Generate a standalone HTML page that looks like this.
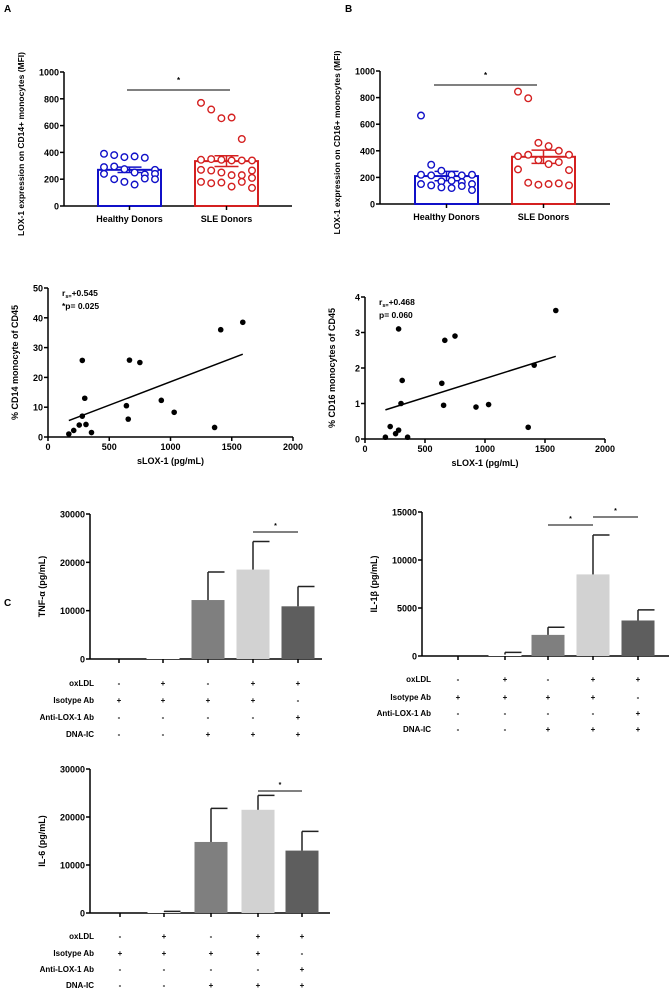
<!DOCTYPE html>
<html><head><meta charset="utf-8"><style>
body{margin:0;background:#fff}
svg{display:block;font-family:"Liberation Sans",Arial,sans-serif;font-weight:bold}
</style></head><body>
<svg id="fig" width="669" height="990" viewBox="0 0 669 990" xmlns="http://www.w3.org/2000/svg">
<text x="4" y="12" font-size="10">A</text>
<text x="345" y="12" font-size="10">B</text>
<text x="4" y="606" font-size="10">C</text>
</svg>
<script>
// ---- data ----
const donorCats = ["Healthy Donors","SLE Donors"];
const aMeans = [270, 335];
const aErr = [20, 40];
const aHealthy = [390,380,365,370,360,270,290,295,275,250,235,240,240,200,180,160,205,200];
const aSLE = [770,720,655,660,500,340,345,350,345,340,340,265,270,265,250,230,230,210,180,170,175,145,180,135];
const bMeans = [210, 355];
const bErr = [35, 50];
const bHealthy = [665,295,250,220,215,220,220,215,170,175,165,150,150,140,125,120,135,105];
const bSLE = [845,795,460,435,400,370,360,370,330,300,315,255,260,160,145,150,155,140];
const sLox = [170,210,255,280,280,300,310,355,640,655,665,750,925,1030,1360,1410,1590];
const cd14 = [1,2.2,4,7,25.7,13,4.2,1.5,10.5,6,25.8,25,12.3,8.3,3.2,36,38.5];
const cd16 = [0.05,0.35,0.15,0.25,3.1,1.0,1.65,0.05,1.57,0.95,2.78,2.9,0.9,0.97,0.33,2.08,3.62];
const fit14 = [[170,5.5],[1590,27.8]];
const fit16 = [[170,0.82],[1590,2.33]];
const condRows = ["oxLDL","Isotype Ab","Anti-LOX-1 Ab","DNA-IC"];
const condSigns = [["-","+","-","+","+"],["+","+","+","+","-"],["-","-","-","-","+"],["-","-","+","+","+"]];
const tnfVals = [0,300,12200,18500,10900];
const tnfErr = [0,300,18000,24300,15000];
const il1Vals = [0,150,2200,8500,3700];
const il1Err = [0,380,3000,12600,4800];
const il6Vals = [0,300,14800,21500,13000];
const il6Err = [0,350,21800,24500,17000];
const barColors = ["#fff","#fff","#7f7f7f","#d2d2d2","#5e5e5e"];
const donorTicks = [0,200,400,600,800,1000];
const sxTicks = [0,500,1000,1500,2000];
const s14Ticks = [0,10,20,30,40,50];
const s16Ticks = [0,1,2,3,4];
const tnfTicks = [0,10000,20000,30000];
const il1Ticks = [0,5000,10000,15000];

const svg = document.getElementById('fig');
const NS = "http://www.w3.org/2000/svg";
function el(tag, attrs, parent){
  const e = document.createElementNS(NS, tag);
  for (const k in attrs) e.setAttribute(k, attrs[k]);
  (parent||svg).appendChild(e);
  return e;
}
function txt(x,y,s,size,anchor,parent,rot){
  const t = el('text',{x:x,y:y,'font-size':size,'text-anchor':anchor||'middle'},parent);
  if(rot) t.setAttribute('transform',`rotate(-90 ${x} ${y})`);
  t.textContent = s;
  return t;
}
function lin(d0,d1,r0,r1){return v=>r0+(v-d0)/(d1-d0)*(r1-r0);}

function yAxis(x,y,ticks,x2,fs){
  const g = el('g',{});
  
  
  const yy = ticks.map(y);
  el('line',{x1:x,x2:x,y1:Math.min(...yy),y2:Math.max(...yy),stroke:'#000','stroke-width':1.5},g);
  ticks.forEach(t=>{
    el('line',{x1:x-4,x2:x,y1:y(t),y2:y(t),stroke:'#000','stroke-width':1.5},g);
    const l = txt(x-5,y(t)+3.5,String(t),fs||9,'end',g);
    
    
  });
}

// ---- donor bar charts ----
function donorChart(ax,y0,y1000,xEnd,bx,bw,means,errs,hp,sp,title,sigY,sigX){
  const y = lin(0,1000,y0,y1000);
  yAxis(ax,y,donorTicks);
  el('line',{x1:ax,x2:xEnd,y1:y0,y2:y0,stroke:'#000','stroke-width':1.5});
  const cols=['#1010c8','#d42020'];
  [hp,sp].forEach((pts,i)=>{
    const x0=bx[i], cx=x0+bw/2;
    const r = el('rect',{x:x0,y:y(means[i]),width:bw,height:y0-y(means[i]),fill:'none',stroke:cols[i],'stroke-width':2});
    
    
    el('line',{x1:cx,x2:cx,y1:y(means[i]+errs[i]),y2:y(means[i]-errs[i]),stroke:cols[i],'stroke-width':1.5});
    el('line',{x1:cx-12,x2:cx+12,y1:y(means[i]+errs[i]),y2:y(means[i]+errs[i]),stroke:cols[i],'stroke-width':1.5});
    el('line',{x1:cx-12,x2:cx+12,y1:y(means[i]-errs[i]),y2:y(means[i]-errs[i]),stroke:cols[i],'stroke-width':1.5});
    el('line',{x1:cx,x2:cx,y1:y0,y2:y0+4,stroke:'#000','stroke-width':1.5});
    pts.forEach((v,j)=>{
      const px = x0+6+ (j%6)*((bw-12)/5);
      const c = el('circle',{cx:px,cy:y(v),r:3.3,fill:'#fff',stroke:cols[i],'stroke-width':1.4});
      
      
    });
    const l = txt(cx,y0+16,donorCats[i],9,'middle');
    
    
  });
  el('line',{x1:sigX[0],x2:sigX[1],y1:sigY,y2:sigY,stroke:'#000','stroke-width':1});
  txt((sigX[0]+sigX[1])/2,sigY-7,'*',8,'middle');
  const t = txt(ax-40,(y0+y1000)/2-35+40,title,8.5,'middle',null,true);
  
  
}
donorChart(64,206,72,292,[98,195],63,aMeans,aErr,aHealthy,aSLE,"LOX-1 expression on CD14+ monocytes (MFI)",90,[127,230]);
donorChart(380,204,71,610,[415,512],63,bMeans,bErr,bHealthy,bSLE,"LOX-1 expression on CD16+ monocytes (MFI)",85,[434,537]);

// ---- scatter plots ----
function scatter(ax,y0,yTop,xEnd,yt,vals,fit,title,l1,l2){
  const x = lin(0,2000,ax,xEnd);
  const y = lin(0,yt[yt.length-1],y0,yTop);
  yAxis(ax,y,yt,null,9);
  el('line',{x1:ax,x2:xEnd,y1:y0,y2:y0,stroke:'#000','stroke-width':1.5});
  sxTicks.forEach(t=>{
    el('line',{x1:x(t),x2:x(t),y1:y0,y2:y0+4,stroke:'#000','stroke-width':1.5});
    txt(x(t),y0+13,String(t),9,'middle');
  });
  txt((ax+xEnd)/2,y0+27,'sLOX-1 (pg/mL)',9,'middle');
  sLox.forEach((v,i)=>{
    const c = el('circle',{cx:x(v),cy:y(vals[i]),r:2.8,fill:'#000'});
    
    
  });
  const f = el('line',{x1:x(fit[0][0]),y1:y(fit[0][1]),x2:x(fit[1][0]),y2:y(fit[1][1]),stroke:'#000','stroke-width':1.5});
  
  
  const t1 = el('text',{x:ax+14,y:yTop+8,'font-size':8.5});
  t1.innerHTML = 'r<tspan font-size="5.5" dy="2">s=</tspan><tspan dy="-2">'+l1+'</tspan>';
  txt(ax+14,yTop+21,l2,8.5,'start');
  const t = txt(ax-30,(y0+yTop)/2,title,9,'middle',null,true);
  
  
}
scatter(48,437,288,293,s14Ticks,cd14,fit14,"% CD14 monocyte of CD45","+0.545","*p= 0.025");
scatter(365,439,297,605,s16Ticks,cd16,fit16,"% CD16 monocytes of CD45","+0.468","p= 0.060");

// ---- cytokine bar charts ----
function cyto(ax,y0,yTop,xEnd,ticks,centers,vals,errs,title,rowYs,labX,sigs){
  const y = lin(0,ticks[ticks.length-1],y0,yTop);
  yAxis(ax,y,ticks,null,9);
  el('line',{x1:ax,x2:xEnd,y1:y0,y2:y0,stroke:'#000','stroke-width':1.5});
  const bw=33;
  centers.forEach((cx,i)=>{
    const b = el('rect',{x:cx-bw/2,y:y(vals[i]),width:bw,height:Math.max(0,y0-y(vals[i])),fill:barColors[i]});
    
    
    if(errs[i]>vals[i]){
      el('line',{x1:cx,x2:cx,y1:y(vals[i]),y2:y(errs[i]),stroke:'#222','stroke-width':1.5});
      el('line',{x1:cx,x2:cx+bw/2,y1:y(errs[i]),y2:y(errs[i]),stroke:'#222','stroke-width':1.5});
    }
    el('line',{x1:cx,x2:cx,y1:y0,y2:y0+4,stroke:'#000','stroke-width':1.5});
  });
  condRows.forEach((r,ri)=>{
    txt(labX,rowYs[ri],r,8,'end');
    centers.forEach((cx,i)=>txt(cx,rowYs[ri],condSigns[ri][i],8,'middle'));
  });
  sigs.forEach(s=>{
    el('line',{x1:centers[s[0]],x2:centers[s[1]],y1:s[2],y2:s[2],stroke:'#000','stroke-width':1});
    txt((centers[s[0]]+centers[s[1]])/2,s[2]-4,'*',7,'middle');
  });
  const t = txt(ax-45,(y0+yTop)/2,title,9,'middle',null,true);
  
  
}
cyto(90,659,514,322,tnfTicks,[119,163,208,253,298],tnfVals,tnfErr,"TNF-α (pg/mL)",[686,703,720,737],94,[[3,4,532]]);
cyto(422,656,512,669,il1Ticks,[458,505,548,593,638],il1Vals,il1Err,"IL-1β (pg/mL)",[682,700,716,732],431,[[2,3,525],[3,4,517]]);
cyto(90,913,769,330,tnfTicks,[120,164,211,258,302],il6Vals,il6Err,"IL-6 (pg/mL)",[939,956,972,988],94,[[3,4,791]]);
</script>
</body></html>
